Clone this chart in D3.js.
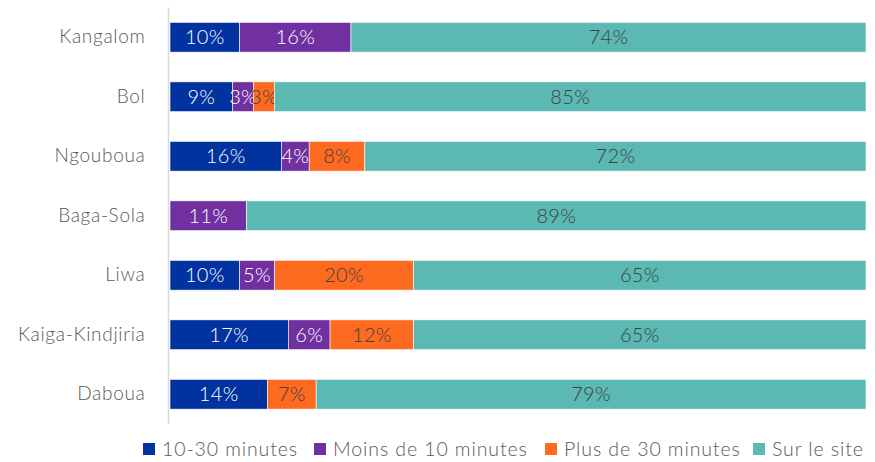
<!DOCTYPE html>
<title>Temps d'accès</title>
<body>
<script src="https://cdn.jsdelivr.net/npm/d3@7/dist/d3.min.js"></script>
<style>
  html, body { margin: 0; background: #fff; }
  text { font-family: Lato, "Open Sans", sans-serif; font-weight: 300; }
</style>
<script>
  var sites = ["Kangalom", "Bol", "Ngouboua", "Baga-Sola", "Liwa", "Kaiga-Kindjiria", "Daboua"];
  var series = ["10-30 minutes", "Moins de 10 minutes", "Plus de 30 minutes", "Sur le site"];
  var v1030  = [10, 9, 16, 0, 10, 17, 14];
  var vMoins = [16, 3, 4, 11, 5, 6, 0];
  var vPlus  = [0, 3, 8, 0, 20, 12, 7];
  var vSite  = [74, 85, 72, 89, 65, 65, 79];
  var colors = ["#0033a0", "#7030a0", "#ff6a21", "#5bb8b2"];
  var labelColors = ["#fff", "#fff", "#404040", "#404040"];

  var width = 875, height = 462,
      x0 = 170, x1 = 866, yTop = 7.5, yBottom = 424;

  var rows = sites.map(function(s, i) {
    return { site: s, "10-30 minutes": v1030[i], "Moins de 10 minutes": vMoins[i],
             "Plus de 30 minutes": vPlus[i], "Sur le site": vSite[i] };
  });
  var stacked = d3.stack().keys(series)(rows);

  var x = d3.scaleLinear().domain([0, 100]).range([x0, x1]);
  var y = d3.scaleBand().domain(sites).range([yTop, yBottom])
    .paddingInner(0.5).paddingOuter(0.25);

  var svg = d3.select("body").append("svg")
    .attr("width", width).attr("height", height);

  var layers = svg.selectAll("g.layer")
    .data(stacked)
    .enter().append("g")
    .attr("class", "layer");

  layers.selectAll("rect")
    .data(function(d) { return d.filter(function(p) { return p[1] - p[0] > 0; }); })
    .enter().append("rect")
    .attr("x", function(d) { return x(d[0]); })
    .attr("y", function(d) { return y(d.data.site); })
    .attr("width", function(d) { return x(d[1]) - x(d[0]); })
    .attr("height", y.bandwidth())
    .attr("fill", function() { return colors[this.parentNode.__data__.index]; })
    .attr("stroke", "#fff")
    .attr("stroke-width", 0.6);

  layers.selectAll("text")
    .data(function(d) { return d.filter(function(p) { return p[1] - p[0] > 0; }); })
    .enter().append("text")
    .attr("x", function(d) { return (x(d[0]) + x(d[1])) / 2; })
    .attr("y", function(d) { return y(d.data.site) + y.bandwidth() / 2; })
    .attr("dy", "0.36em")
    .attr("text-anchor", "middle")
    .attr("font-size", 20)
    .attr("letter-spacing", 0.3)
    .attr("fill", function() { return labelColors[this.parentNode.__data__.index]; })
    .text(function(d) { return (d[1] - d[0]) + "%"; });

  // category axis
  var axis = svg.append("g")
    .attr("transform", "translate(" + (x0 - 1.5) + ",0)")
    .call(d3.axisLeft(y).tickSize(0).tickPadding(23));
  axis.select(".domain").attr("stroke", "#d9d9d9").attr("stroke-width", 1.5)
    .attr("d", "M0," + yTop + "V" + yBottom);
  axis.selectAll("text")
    .attr("font-size", 19)
    .attr("letter-spacing", 0.7)
    .attr("fill", "#595959")
    .style("font-family", "Lato, 'Open Sans', sans-serif")
    .style("font-weight", 300);

  // legend
  var legendX = [143, 314, 545, 753];
  var legend = svg.selectAll("g.legend")
    .data(series)
    .enter().append("g")
    .attr("class", "legend")
    .attr("transform", function(d, i) { return "translate(" + legendX[i] + ",443)"; });
  legend.append("rect")
    .attr("width", 12).attr("height", 12)
    .attr("fill", function(d, i) { return colors[i]; });
  legend.append("text")
    .attr("x", 19).attr("y", 6).attr("dy", "0.36em")
    .attr("font-size", 19.5)
    .attr("letter-spacing", 0.9)
    .attr("fill", "#595959")
    .text(function(d) { return d; });
</script>
